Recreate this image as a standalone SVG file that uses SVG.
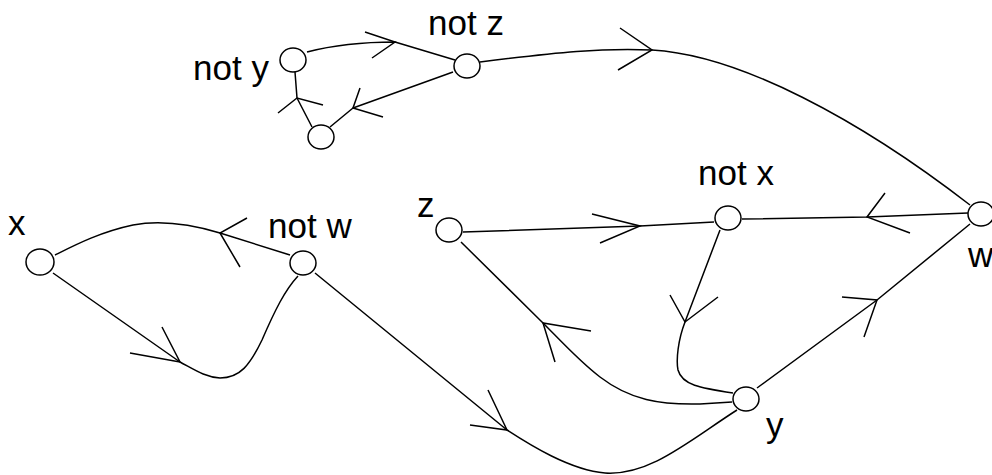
<svg xmlns="http://www.w3.org/2000/svg" width="992" height="475" viewBox="0 0 992 475">
<style>
.edge{fill:none;stroke:#000;stroke-width:1.5;stroke-linejoin:round}
.arr{fill:none;stroke:#000;stroke-width:1.5}
.node{fill:#fff;stroke:#000;stroke-width:1.5}
.lbl{font-family:"Liberation Sans",Arial,sans-serif;font-size:35px;fill:#000}
</style>
<rect width="992" height="475" fill="#fff"/>
<g id="connectors">
<path class="edge" d="M307,52 C330,46 360,42 395,42 L455,60"/>
<path class="arr" d="M365,32 L395,42 L372,58"/>
<path class="edge" d="M453,72 L353,108 L330,127"/>
<path class="arr" d="M360,88 L353,108 L383,117"/>
<path class="edge" d="M312,127 L297,98 L295,72"/>
<path class="arr" d="M278,113 L297,98 L323,105"/>
<path class="edge" d="M480,62 C560,52 600,48 652,50 C740,55 860,120 970,205"/>
<path class="arr" d="M620,28 L652,50 L618,70"/>
<path class="edge" d="M290,255 L220,233 C190,224 160,220 133,225 C100,232 75,245 55,255"/>
<path class="arr" d="M247,218 L220,233 L240,267"/>
<path class="edge" d="M53,273 L180,362 C195,370 205,377 220,378 C240,378 250,365 262,340 C275,310 285,290 298,276"/>
<path class="arr" d="M162,327 L180,362 L130,353"/>
<path class="edge" d="M315,273 L507,430 C530,445 570,470 605,473 C650,476 690,440 737,410"/>
<path class="arr" d="M488,390 L507,430 L470,425"/>
<path class="edge" d="M463,232 L640,226 L714,222"/>
<path class="arr" d="M592,214 L640,226 L600,243"/>
<path class="edge" d="M732,402 L700,404 C660,405 630,400 600,377 C580,362 560,340 543,323 L461,242"/>
<path class="arr" d="M591,331 L543,323 L555,362"/>
<path class="edge" d="M720,230 L685,322 C678,340 676,360 678,370 C682,385 700,388 733,393"/>
<path class="arr" d="M670,295 L685,322 L718,297"/>
<path class="edge" d="M968,213 L867,217 L742,219"/>
<path class="arr" d="M885,193 L867,217 L910,233"/>
<path class="edge" d="M757,388 L877,300 L970,224"/>
<path class="arr" d="M842,297 L877,300 L864,337"/>
</g>
<g id="node-not-y"><ellipse class="node" cx="293" cy="60" rx="13" ry="12"/><text class="lbl" x="193" y="80">not y</text></g>
<g id="node-not-z"><ellipse class="node" cx="467" cy="66" rx="13" ry="12"/><text class="lbl" x="428" y="35">not z</text></g>
<g id="node-unnamed"><ellipse class="node" cx="321" cy="137" rx="13" ry="12"/></g>
<g id="node-x"><ellipse class="node" cx="40" cy="262" rx="14" ry="13"/><text class="lbl" x="8" y="235">x</text></g>
<g id="node-not-w"><ellipse class="node" cx="303" cy="263" rx="13" ry="12"/><text class="lbl" x="268" y="238">not w</text></g>
<g id="node-z"><ellipse class="node" cx="449" cy="230" rx="13" ry="12"/><text class="lbl" x="417" y="217">z</text></g>
<g id="node-not-x"><ellipse class="node" cx="728" cy="218" rx="13" ry="12"/><text class="lbl" x="698" y="185">not x</text></g>
<g id="node-w"><ellipse class="node" cx="981" cy="214" rx="13" ry="12"/><text class="lbl" x="968" y="267">w</text></g>
<g id="node-y"><ellipse class="node" cx="746" cy="399" rx="13" ry="12"/><text class="lbl" x="766" y="437">y</text></g>
</svg>
